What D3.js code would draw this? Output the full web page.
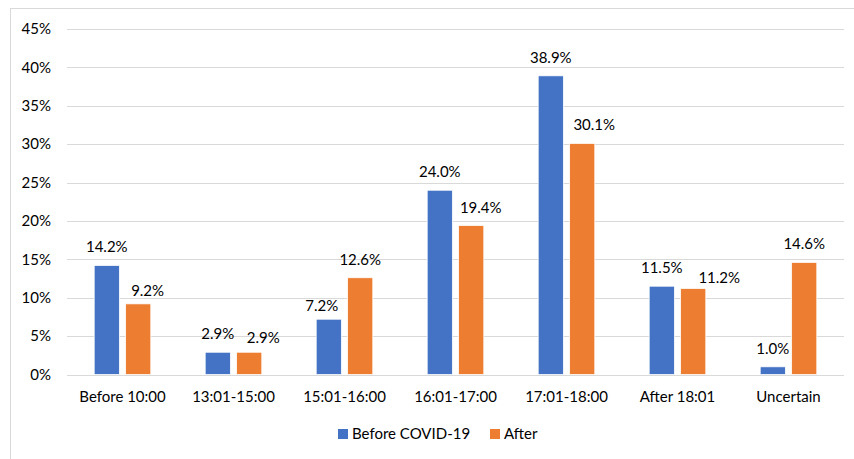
<!DOCTYPE html>
<html>
<head>
<meta charset="utf-8">
<script src="https://cdn.jsdelivr.net/npm/d3@7"></script>
<style>
  html, body { margin: 0; padding: 0; background: #fff; }
  svg { display: block; font-family: Lato, "Open Sans", sans-serif; }
</style>
</head>
<body>
<svg id="chart" width="854" height="459"></svg>
<script>
// Departure time shares, before and after COVID-19
const categories = ["Before 10:00", "13:01-15:00", "15:01-16:00", "16:01-17:00", "17:01-18:00", "After 18:01", "Uncertain"];
const seriesNames = ["Before COVID-19", "After"];
const beforeValues = [14.2, 2.9, 7.2, 24.0, 38.9, 11.5, 1.0];
const afterValues = [9.2, 2.9, 12.6, 19.4, 30.1, 11.2, 14.6];
const yTicks = [0, 5, 10, 15, 20, 25, 30, 35, 40, 45];
const colors = ["#4472C4", "#ED7D31"];

// hand-placed label nudges [dx, dy] so neighbouring labels don't collide
const labelNudge = [
  [[0, 0], [0, 0], [-7, 4.4], [0, 0], [0, 0], [0, 0], [0, 0]],
  [[9.4, 4.7], [14, 4], [0, 0], [9.5, 0.6], [12, 0], [26, 7.3], [0, 0]]
];

const svg = d3.select("#chart");
const W = 854, H = 459;
const plot = { left: 67, right: 844, top: 29, bottom: 374.5 };

// outer frame (runs off the right and bottom edges)
svg.append("rect")
  .attr("x", 10.5).attr("y", 8.5)
  .attr("width", W).attr("height", H)
  .attr("fill", "none").attr("stroke", "#d9d9d9").attr("stroke-width", 1);

const x0 = d3.scaleBand().domain(categories).range([plot.left, plot.right]).paddingInner(0.49).paddingOuter(0.245);
const x1 = d3.scaleBand().domain(seriesNames).range([0, x0.bandwidth()]).paddingInner(0.2);
const y = d3.scaleLinear().domain([0, 45]).range([plot.bottom, plot.top]);

// gridlines
svg.append("g").selectAll("line").data(yTicks).join("line")
  .attr("x1", plot.left).attr("x2", plot.right)
  .attr("y1", d => Math.round(y(d)) + 0.5).attr("y2", d => Math.round(y(d)) + 0.5)
  .attr("stroke", "#d9d9d9").attr("stroke-width", 1);

// y axis labels
const yAxis = d3.axisLeft(y).tickValues(yTicks).tickFormat(d => d + "%").tickSize(0).tickPadding(0);
const gy = svg.append("g").attr("transform", `translate(51,0)`).call(yAxis);
gy.select(".domain").remove();
gy.selectAll("text").attr("font-size", 15).attr("fill", "#000").attr("font-family", "Lato, sans-serif");

// x axis labels
const xAxis = d3.axisBottom(x0).tickSize(0).tickPadding(0);
const gx = svg.append("g").attr("transform", `translate(0,${plot.bottom})`).call(xAxis);
gx.select(".domain").remove();
gx.selectAll("text").attr("font-size", 15).attr("fill", "#000").attr("font-family", "Lato, sans-serif")
  .attr("dy", null).attr("y", 27.5);

// bars
const rows = categories.map((c, i) => ({ cat: c, i, vals: [beforeValues[i], afterValues[i]] }));
const groups = svg.append("g").selectAll("g").data(rows).join("g")
  .attr("transform", d => `translate(${x0(d.cat)},0)`);

const items = d => d.vals.map((v, j) => ({ v, s: seriesNames[j], j, i: d.i }));

groups.selectAll("rect").data(items).join("rect")
  .attr("x", d => x1(d.s))
  .attr("y", d => y(d.v))
  .attr("width", x1.bandwidth())
  .attr("height", d => y(0) - y(d.v))
  .attr("fill", d => colors[d.j])
  .attr("stroke", "#fff").attr("stroke-width", 0.75);

// value labels
groups.selectAll("text").data(items).join("text")
  .attr("x", d => x1(d.s) + x1.bandwidth() / 2 + labelNudge[d.j][d.i][0])
  .attr("y", d => y(d.v) - 13 + labelNudge[d.j][d.i][1])
  .attr("text-anchor", "middle")
  .attr("font-size", 15).attr("fill", "#000")
  .text(d => d.v.toFixed(1) + "%");

// legend
const legendItems = [
  { name: seriesNames[0], color: colors[0], x: 338 },
  { name: seriesNames[1], color: colors[1], x: 490 }
];
const lg = svg.append("g").selectAll("g").data(legendItems).join("g")
  .attr("transform", d => `translate(${d.x},429)`);
lg.append("rect").attr("width", 10).attr("height", 10).attr("fill", d => d.color);
lg.append("text").attr("x", 14).attr("y", 9.5)
  .attr("font-size", 15).attr("fill", "#000").text(d => d.name);
</script>
</body>
</html>
